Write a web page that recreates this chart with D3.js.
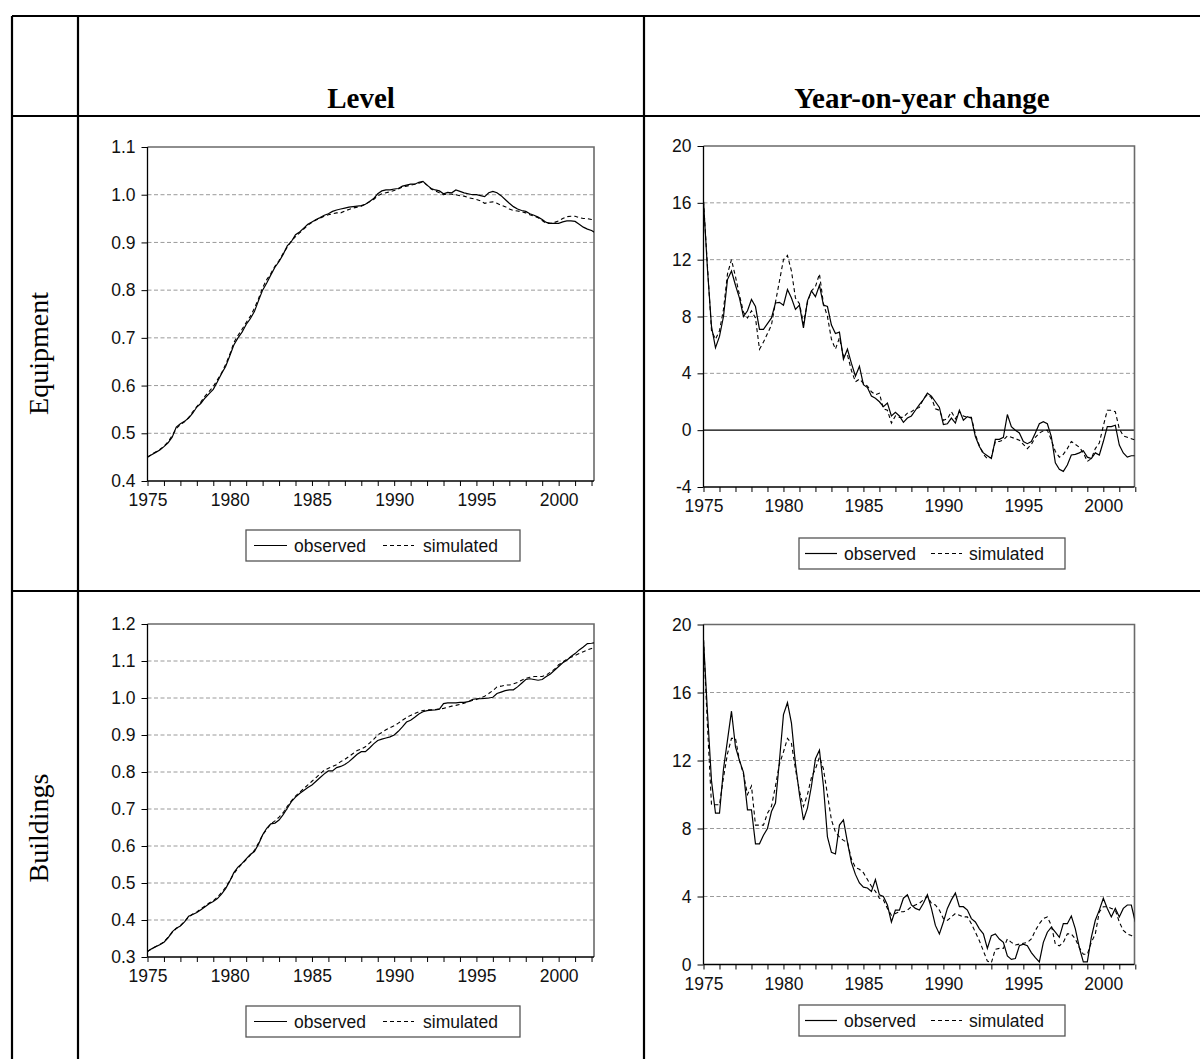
<!DOCTYPE html>
<html><head><meta charset="utf-8">
<script src="https://cdn.jsdelivr.net/npm/d3@7"></script>
<style>body{margin:0;background:#fff}svg{display:block}</style>
</head><body>
<svg id="c" width="1200" height="1059"></svg>
<script>
// ---------------- data ----------------
const startYear = 1975;            // quarterly observations from 1975Q1
const columnHeaders = ["Level", "Year-on-year change"];
const rowLabels = ["Equipment", "Buildings"];
const legendLabels = ["observed", "simulated"];
const yearTicks = d3.range(1975, 2003);
const yearLabelStep = 5;
const equipLevelTicks = [0.4, 0.5, 0.6, 0.7, 0.8, 0.9, 1.0, 1.1];
const buildLevelTicks = [0.3, 0.4, 0.5, 0.6, 0.7, 0.8, 0.9, 1.0, 1.1, 1.2];
const equipYoyTicks = [-4, 0, 4, 8, 12, 16, 20];
const buildYoyTicks = [0, 4, 8, 12, 16, 20];

const equipLevelObs = [
 0.450,0.455,0.460,0.465, 0.472,0.480,0.492,0.513, 0.520,0.525,0.532,0.542,
 0.555,0.563,0.574,0.583, 0.592,0.608,0.625,0.640, 0.662,0.685,0.700,0.712,
 0.728,0.740,0.755,0.778, 0.800,0.815,0.832,0.848, 0.860,0.875,0.893,0.902,
 0.916,0.922,0.930,0.938, 0.943,0.948,0.952,0.957, 0.960,0.965,0.968,0.970,
 0.972,0.974,0.975,0.976, 0.977,0.980,0.986,0.992, 1.002,1.008,1.010,1.010,
 1.012,1.013,1.018,1.020, 1.022,1.022,1.026,1.028, 1.020,1.013,1.010,1.008,
 1.002,1.005,1.004,1.010, 1.007,1.004,1.002,1.000, 1.000,0.998,0.996,1.004,
 1.007,1.004,0.998,0.990, 0.982,0.975,0.970,0.967, 0.965,0.960,0.957,0.953,
 0.948,0.942,0.940,0.940, 0.940,0.943,0.945,0.945, 0.944,0.938,0.932,0.928,
 0.925,0.920];
const equipLevelSim = [
 0.450,0.456,0.461,0.466, 0.473,0.482,0.495,0.510, 0.518,0.524,0.533,0.545,
 0.556,0.566,0.578,0.588, 0.598,0.612,0.626,0.644, 0.665,0.690,0.705,0.718,
 0.732,0.745,0.762,0.782, 0.805,0.822,0.835,0.850, 0.862,0.877,0.890,0.903,
 0.912,0.920,0.928,0.936, 0.942,0.947,0.951,0.955, 0.958,0.960,0.962,0.962,
 0.966,0.969,0.972,0.974, 0.976,0.980,0.985,0.990, 0.998,1.002,1.004,1.006,
 1.009,1.012,1.016,1.018, 1.020,1.022,1.024,1.027, 1.020,1.012,1.008,1.004,
 1.000,1.002,1.001,1.000, 0.998,0.997,0.994,0.992, 0.990,0.987,0.982,0.984,
 0.985,0.982,0.978,0.975, 0.970,0.967,0.966,0.964, 0.962,0.958,0.955,0.952,
 0.946,0.940,0.940,0.942, 0.945,0.950,0.954,0.955, 0.955,0.952,0.950,0.950,
 0.948,0.947];
const buildLevelObs = [
 0.315,0.322,0.328,0.333, 0.340,0.352,0.368,0.378, 0.384,0.395,0.410,0.415,
 0.420,0.428,0.436,0.444, 0.450,0.458,0.470,0.485, 0.505,0.528,0.543,0.553,
 0.565,0.577,0.585,0.605, 0.630,0.648,0.660,0.662, 0.670,0.685,0.702,0.720,
 0.732,0.742,0.750,0.758, 0.765,0.775,0.785,0.795, 0.803,0.803,0.812,0.815,
 0.820,0.828,0.838,0.848, 0.855,0.855,0.865,0.876, 0.885,0.889,0.892,0.895,
 0.900,0.910,0.922,0.935, 0.940,0.948,0.957,0.963, 0.966,0.967,0.968,0.970,
 0.985,0.987,0.987,0.987, 0.988,0.988,0.990,0.996, 0.998,0.998,0.999,1.000,
 1.002,1.012,1.016,1.020, 1.022,1.022,1.030,1.040, 1.050,1.052,1.050,1.048,
 1.050,1.058,1.065,1.075, 1.085,1.095,1.102,1.112, 1.120,1.130,1.138,1.147,
 1.148,1.150];
const buildLevelSim = [
 0.315,0.322,0.328,0.334, 0.341,0.353,0.366,0.377, 0.385,0.396,0.408,0.416,
 0.422,0.430,0.438,0.446, 0.452,0.462,0.474,0.488, 0.506,0.525,0.540,0.552,
 0.563,0.575,0.588,0.608, 0.630,0.645,0.660,0.668, 0.678,0.690,0.707,0.722,
 0.735,0.745,0.755,0.765, 0.775,0.785,0.795,0.805, 0.810,0.815,0.820,0.828,
 0.834,0.842,0.850,0.858, 0.862,0.868,0.878,0.888, 0.900,0.907,0.914,0.920,
 0.925,0.932,0.940,0.947, 0.953,0.958,0.963,0.966, 0.968,0.968,0.969,0.970,
 0.972,0.975,0.978,0.980, 0.983,0.986,0.990,0.993, 0.996,1.000,1.005,1.012,
 1.020,1.030,1.032,1.035, 1.035,1.038,1.042,1.048, 1.053,1.056,1.058,1.058,
 1.058,1.062,1.070,1.078, 1.090,1.097,1.105,1.110, 1.115,1.120,1.125,1.130,
 1.134,1.136];
const equipYoyObs = [
 16.1,11.3,7.3,5.8, 6.6,8.0,10.6,11.2, 10.2,9.3,8.0,8.4, 9.2,8.7,7.1,7.1,
 7.5,7.9,8.95,9.0, 8.8,9.9,9.3,8.5, 8.8,7.2,9.1,9.8, 9.4,10.2,8.8,8.7,
 7.4,6.8,6.9,5.0, 5.7,4.7,3.8,4.5, 3.2,3.0,2.4,2.25, 2.0,1.65,1.9,1.0,
 1.25,1.0,0.55,0.85, 1.0,1.4,1.8,2.15, 2.6,2.4,2.0,1.6, 0.4,0.45,0.85,0.5,
 1.4,0.7,0.95,0.85, -0.45,-1.15,-1.6,-1.8, -2.0,-0.65,-0.65,-0.5, 1.1,0.25,0.0,-0.2,
 -0.8,-0.95,-0.8,-0.2, 0.45,0.6,0.45,-0.45, -2.3,-2.75,-2.9,-2.45, -1.75,-1.7,-1.6,-1.45,
 -1.9,-2.0,-1.6,-1.75, -0.8,0.25,0.25,0.35, -1.05,-1.6,-1.9,-1.8, -1.8];
const equipYoySim = [
 16.1,11.5,7.0,6.4, 7.0,8.5,11.0,12.0, 10.8,9.5,8.3,7.9, 8.4,7.9,5.7,6.2,
 6.8,7.4,9.0,10.5, 12.0,12.3,11.2,9.3, 8.9,7.5,9.0,9.8, 10.1,11.0,8.9,8.0,
 6.4,5.7,6.5,5.2, 5.3,4.2,3.4,3.6, 3.3,3.1,2.7,2.5, 2.6,1.5,1.4,0.5,
 1.0,0.9,0.9,1.2, 1.3,1.5,1.6,2.2, 2.5,2.3,1.5,1.4, 0.7,0.8,1.3,0.8,
 1.3,1.0,0.9,0.9, -0.3,-1.1,-1.7,-2.0, -1.9,-0.8,-0.8,-0.7, -0.4,-0.5,-0.6,-0.7,
 -1.0,-1.3,-1.0,-0.5, -0.2,-0.05,0.0,-0.7, -1.5,-1.9,-1.7,-1.3, -0.8,-1.0,-1.2,-1.6,
 -2.2,-2.0,-1.3,-0.9, 0.3,1.4,1.4,1.3, 0.1,-0.4,-0.5,-0.6, -0.7];
const buildYoyObs = [
 19.1,14.8,10.8,8.9, 8.9,11.5,13.2,14.9, 12.8,12.0,11.3,9.1, 9.1,7.1,7.1,7.6,
 8.0,9.0,9.5,12.0, 14.7,15.4,14.2,11.8, 10.0,8.5,9.2,10.5, 12.1,12.6,10.5,7.5,
 6.6,6.5,8.2,8.5, 7.2,6.0,5.3,4.8, 4.55,4.5,4.3,5.0, 4.1,4.0,3.5,2.5,
 3.2,3.2,3.9,4.1, 3.5,3.3,3.2,3.6, 4.1,3.3,2.3,1.8, 2.5,3.3,3.8,4.2,
 3.4,3.4,3.2,2.7, 2.5,2.1,1.8,0.95, 1.7,1.8,1.5,1.3, 0.5,0.3,0.35,1.1,
 1.2,1.1,0.7,0.4, 0.15,1.3,1.9,2.2, 1.9,1.6,2.4,2.4, 2.85,2.1,1.0,0.15,
 0.15,1.6,2.6,3.2, 3.9,3.3,2.8,3.3, 2.8,3.3,3.5,3.5, 2.5];
const buildYoySim = [
 19.1,14.0,9.4,9.4, 9.4,11.0,12.4,13.3, 13.3,12.0,11.2,10.0, 10.5,8.2,8.2,8.2,
 8.9,9.3,10.5,11.8, 12.5,13.3,13.0,11.5, 10.2,9.3,10.0,11.0, 11.5,12.2,11.5,10.0,
 8.5,7.8,7.5,7.3, 7.2,6.2,5.7,5.6, 5.4,5.0,4.6,4.3, 3.9,3.8,3.3,2.9,
 3.0,3.1,3.1,3.2, 3.4,3.5,3.6,3.8, 4.0,3.6,3.5,3.2, 2.7,2.6,2.8,3.0,
 2.9,2.8,2.8,2.4, 1.9,1.4,0.8,0.2, 0.1,0.9,0.95,0.95, 1.5,1.3,1.15,1.2,
 1.25,1.3,1.5,2.0, 2.4,2.7,2.8,2.3, 1.2,1.1,1.3,1.8, 1.8,1.5,1.0,0.6,
 0.6,1.3,1.8,3.1, 3.4,3.4,3.3,3.2, 2.5,2.0,1.8,1.7, 1.6];

// ---------------- layout ----------------
const SANS = "'Liberation Sans', Arial, sans-serif";
const SERIF = "'Liberation Serif', 'Times New Roman', serif";
const svg = d3.select("#c");

const table = {left: 12, top: 16, colSep: [78, 644], headLine: 116, rowSep: 591, right: 1201, bottom: 1070};
const T = svg.append("g").attr("stroke", "#000").attr("stroke-width", 2.2).attr("fill", "none");
T.append("line").attr("x1", table.left).attr("x2", table.right).attr("y1", table.top).attr("y2", table.top);
T.append("line").attr("x1", table.left).attr("x2", table.right).attr("y1", table.headLine).attr("y2", table.headLine);
T.append("line").attr("x1", table.left).attr("x2", table.right).attr("y1", table.rowSep).attr("y2", table.rowSep);
T.append("line").attr("x1", table.left).attr("x2", table.left).attr("y1", table.top).attr("y2", table.bottom);
table.colSep.forEach(x => T.append("line").attr("x1", x).attr("x2", x).attr("y1", table.top).attr("y2", table.bottom));

const headerCenters = [(table.colSep[0] + table.colSep[1]) / 2, (table.colSep[1] + 1200) / 2];
columnHeaders.forEach((h, i) => svg.append("text").text(h)
  .attr("x", headerCenters[i]).attr("y", 108).attr("text-anchor", "middle")
  .attr("font-family", SERIF).attr("font-weight", "bold").attr("font-size", 29).attr("fill", "#000"));

const rowCenters = [(table.headLine + table.rowSep) / 2, 828];
rowLabels.forEach((r, i) => svg.append("text").text(r)
  .attr("transform", `translate(48,${rowCenters[i]}) rotate(-90)`).attr("text-anchor", "middle")
  .attr("font-family", SERIF).attr("font-size", 28).attr("fill", "#000"));

const legL = {w: 274, h: 31, s1: [8, 41], t1: 48, s2: [137, 168], t2: 177};
const legR = {w: 266, h: 31, s1: [6, 38], t1: 45, s2: [132, 163], t2: 170};
const hyphen = f => d => f(d).replace("\u2212", "-");

const panels = [
  {obs: equipLevelObs, sim: equipLevelSim, ticks: equipLevelTicks, fmt: d3.format(".1f"),
   x: [147.5, 594], y: [147, 481], xEnd: 2002.15, leg: {x: 246, y: 530, ...legL}},
  {obs: equipYoyObs, sim: equipYoySim, ticks: equipYoyTicks, fmt: hyphen(d3.format("d")), zero: true,
   x: [703.5, 1134.5], y: [146, 487], xEnd: 2001.95, leg: {x: 799, y: 538, ...legR}},
  {obs: buildLevelObs, sim: buildLevelSim, ticks: buildLevelTicks, fmt: d3.format(".1f"),
   x: [147.5, 594], y: [624, 957], xEnd: 2002.15, leg: {x: 246, y: 1006, ...legL}},
  {obs: buildYoyObs, sim: buildYoySim, ticks: buildYoyTicks, fmt: hyphen(d3.format("d")),
   x: [703.5, 1134.5], y: [624.5, 964.5], xEnd: 2001.95, leg: {x: 799, y: 1005, ...legR}}
];

panels.forEach((p, k) => {
  const xs = d3.scaleLinear().domain([startYear, p.xEnd]).range(p.x);
  const dom = d3.extent(p.ticks);
  const ys = d3.scaleLinear().domain(dom).range([p.y[1], p.y[0]]);
  const g = svg.append("g");
  const W = p.x[1] - p.x[0], H = p.y[1] - p.y[0];

  // gridlines
  g.append("g").selectAll("line").data(p.ticks.filter(t => t > dom[0] && t < dom[1]))
    .join("line").attr("x1", p.x[0]).attr("x2", p.x[1])
    .attr("y1", d => ys(d)).attr("y2", d => ys(d))
    .attr("stroke", d => (p.zero && d === 0) ? "#000" : "#9a9a9a")
    .attr("stroke-width", d => (p.zero && d === 0) ? 1.3 : 1)
    .attr("stroke-dasharray", d => (p.zero && d === 0) ? null : "4,2.5");

  // frame (top/right)
  g.append("path").attr("d", `M${p.x[0]},${p.y[0]}H${p.x[1]}V${p.y[1]}`)
    .attr("fill", "none").attr("stroke", "#6a6a6a").attr("stroke-width", 1.6);

  // clip
  const cid = "clip" + k;
  svg.append("clipPath").attr("id", cid).append("rect")
    .attr("x", p.x[0]).attr("y", p.y[0] - 2).attr("width", W).attr("height", H + 4);

  const line = d3.line().x((d, i) => xs(startYear + i / 4)).y(d => ys(d));
  const lg = g.append("g").attr("clip-path", `url(#${cid})`).attr("fill", "none");
  lg.append("path").datum(p.sim).attr("d", line).attr("stroke", "#000").attr("stroke-width", 1.1)
    .attr("stroke-dasharray", "4,3");
  lg.append("path").datum(p.obs).attr("d", line).attr("stroke", "#000").attr("stroke-width", 1.2);

  // axes
  const ya = d3.axisLeft(ys).tickValues(p.ticks).tickFormat(p.fmt).tickSize(6).tickPadding(6);
  const yg = g.append("g").attr("transform", `translate(${p.x[0]},0)`).call(ya);
  const xa = d3.axisBottom(xs).tickValues(yearTicks)
    .tickFormat(d => (d - startYear) % yearLabelStep === 0 ? d : "").tickSize(5).tickPadding(8);
  const xg = g.append("g").attr("transform", `translate(0,${p.y[1]})`).call(xa);
  [yg, xg].forEach(a => {
    a.select(".domain").attr("stroke", "#000").attr("stroke-width", 1.3);
    a.selectAll(".tick line").attr("stroke", "#000").attr("stroke-width", 1);
    a.selectAll("text").attr("font-family", SANS).attr("font-size", 17.5).attr("fill", "#111");
  });
  yg.select(".domain").attr("d", `M0,${p.y[0]}V${p.y[1]}`);
  xg.select(".domain").attr("d", `M${p.x[0]},0H${p.x[1]}`);

  // legend
  const L = p.leg;
  const lgd = svg.append("g").attr("transform", `translate(${L.x},${L.y})`);
  lgd.append("rect").attr("width", L.w).attr("height", L.h).attr("fill", "#fff")
    .attr("stroke", "#555").attr("stroke-width", 1.3);
  const my = L.h / 2;
  lgd.append("line").attr("x1", L.s1[0]).attr("x2", L.s1[1]).attr("y1", my).attr("y2", my)
    .attr("stroke", "#000").attr("stroke-width", 1.2);
  lgd.append("line").attr("x1", L.s2[0]).attr("x2", L.s2[1]).attr("y1", my).attr("y2", my)
    .attr("stroke", "#000").attr("stroke-width", 1.1).attr("stroke-dasharray", "4,3");
  [[legendLabels[0], L.t1], [legendLabels[1], L.t2]].forEach(([t, x]) =>
    lgd.append("text").text(t).attr("x", x).attr("y", my + 6)
      .attr("font-family", SANS).attr("font-size", 17.5).attr("fill", "#111"));
});
</script>
</body></html>
